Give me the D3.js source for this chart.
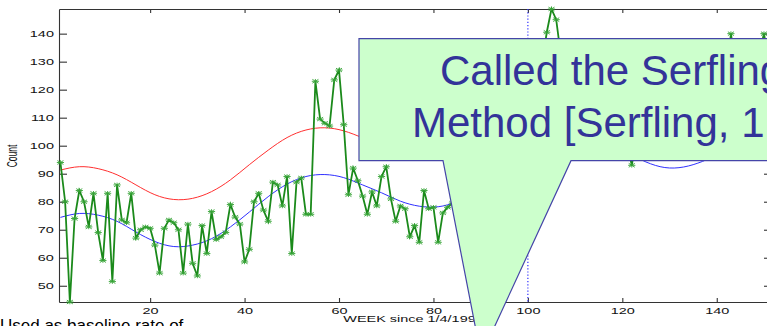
<!DOCTYPE html>
<html>
<head>
<meta charset="utf-8">
<script src="https://cdn.jsdelivr.net/npm/d3@7"></script>
<style>
  html, body { margin: 0; padding: 0; background: #fff; overflow: hidden; }
  svg { display: block; }
</style>
</head>
<body>
<svg id="chart" width="767" height="326"></svg>
<script>
// ── Data ──────────────────────────────────────────────────────────────

// weekly counts, week 1 .. 151
const counts = [
  94, 80, 44.2, 74, 84, 80, 71, 83, 69, 59,
  83, 51.5, 86, 73.5, 72.5, 83, 67, 70, 71, 70.5,
  64.5, 54.5, 70.5, 73.5, 72.5, 70, 54.5, 72, 58, 53.5,
  71.5, 61.5, 76.5, 66.5, 67.5, 69, 79, 74.5, 72, 58.5,
  63, 80, 83, 77, 73, 87, 86, 78.5, 89, 61.5,
  87, 88.5, 75.5, 75.5, 123, 109.5, 108, 107, 123.5, 127,
  107.5, 82.5, 92, 87.5, 82, 75.5, 83.5, 78.5, 89, 92.5,
  81, 73, 78.5, 77.5, 67.5, 71.5, 65.5, 84, 77.5, 78,
  65.5, 76, 78, 79.5, 84, 90, 86, 95, 92, 100,
  97, 106, 103, 112, 108, 118, 114, 124, 120, 127,
  122, 133, 129, 140.5, 148.8, 145, 132, 135, 124, 128,
  119, 124, 115, 120, 110, 116, 107, 112, 104, 109,
  101, 93, 103, 99, 106, 100, 104, 98, 105, 101,
  108, 103, 112, 106, 116, 110, 120, 114, 126, 118,
  130, 124, 140, 128, 134, 122, 131, 126, 133, 140,
  130
];

// fitted seasonal curves, read at these weeks
const fitWeeks = [1, 5, 9, 13, 17, 21, 25, 29, 33, 37, 41, 45, 49, 53, 57, 61, 65, 69, 73, 77,
  81, 85, 89, 93, 97, 101, 105, 109, 113, 117, 121, 125, 129, 133, 137, 141, 145, 149, 151];
const baseline = [74.4, 75.8, 75.2, 73.0, 69.2, 65.8, 64.0, 64.5, 66.8, 71.0, 76.3, 81.8, 86.3, 89.0, 89.7,
  88.6, 86.0, 83.2, 80.2, 78.4, 78.2, 80.2, 84.5, 89.5, 94.5, 99, 102, 103.5, 103, 101, 97.5, 94.2,
  92.2, 92.4, 94.4, 97.5, 101.5, 106, 108];
const threshold = [91.3, 92.5, 91.8, 89.6, 86.0, 82.5, 80.8, 81.2, 83.6, 87.8, 93.2, 98.4, 102.9, 105.6, 106.4,
  105.3, 102.8, 100.0, 97.5, 96.0, 95.8, 97.0, 101.3, 106.3, 111.3, 115.8, 118.8, 120.3, 119.8, 117.8,
  114.3, 111, 109, 109.2, 111.2, 114.3, 118.3, 122.8, 124.8];

const xTicks = [20, 40, 60, 80, 100, 120, 140];
const yTicks = [50, 60, 70, 80, 90, 100, 110, 120, 130, 140];
const markWeek = 100;

const xTitle = 'WEEK since 1/4/1998';
const yTitle = 'Count';
const calloutLines = ['Called the Serfling', 'Method [Serfling, 1'];
const footText = 'Used as baseline rate of';

// ── Layout ────────────────────────────────────────────────────────────

const PLOT = { left: 59, right: 772, top: 9, bottom: 302 };
const STRETCH = 1.7;   // the slide squeezed the figure horizontally
const FONT = '"Liberation Sans", Arial, Helvetica, sans-serif';

const svg = d3.select('#chart');

const x = d3.scaleLinear().domain([0.7, 151.7]).range([PLOT.left, PLOT.right]);
const y = d3.scaleLinear().domain([44.2, 148.8]).range([PLOT.bottom, PLOT.top]);

// ── Axes ──────────────────────────────────────────────────────────────

function styleAxis(g) {
  g.selectAll('path, line').attr('stroke', '#333').attr('stroke-width', 1.1);
  g.selectAll('text')
    .attr('font-family', FONT)
    .attr('font-size', '8.5px')
    .attr('fill', '#111');
}

const bottomAxis = svg.append('g')
  .attr('transform', `translate(0,${PLOT.bottom})`)
  .call(d3.axisBottom(x).tickValues(xTicks).tickSizeInner(-4).tickSizeOuter(0).tickPadding(5.5))
  .call(styleAxis);
bottomAxis.selectAll('text').attr('transform', `scale(${STRETCH},1)`);

svg.append('g')
  .attr('transform', `translate(0,${PLOT.top})`)
  .call(d3.axisTop(x).tickValues(xTicks).tickSizeInner(-4).tickSizeOuter(0).tickFormat(''))
  .call(styleAxis);

const leftAxis = svg.append('g')
  .attr('transform', `translate(${PLOT.left},0)`)
  .call(d3.axisLeft(y).tickValues(yTicks).tickSizeInner(-8).tickSizeOuter(0).tickPadding(3))
  .call(styleAxis);
leftAxis.selectAll('text').attr('transform', `scale(${STRETCH},1)`);

svg.append('g')
  .attr('transform', `translate(${PLOT.right},0)`)
  .call(d3.axisRight(y).tickValues(yTicks).tickSizeInner(-8).tickSizeOuter(0).tickFormat(''))
  .call(styleAxis);

// axis titles
svg.append('text')
  .attr('transform', `translate(${(PLOT.left + PLOT.right) / 2 - 2},322) scale(${STRETCH},1)`)
  .attr('text-anchor', 'middle')
  .attr('font-family', FONT)
  .attr('font-size', '8.5px')
  .attr('fill', '#111')
  .text(xTitle);

svg.append('text')
  .attr('transform', `translate(17,156) rotate(-90) scale(1,${STRETCH})`)
  .attr('text-anchor', 'middle')
  .attr('font-family', FONT)
  .attr('font-size', '8.5px')
  .attr('fill', '#111')
  .text(yTitle);

// ── Seasonal curves ───────────────────────────────────────────────────

const fitLine = d3.line()
  .x((d, i) => x(fitWeeks[i]))
  .y(d => y(d))
  .curve(d3.curveNatural);

svg.append('path')
  .attr('d', fitLine(threshold))
  .attr('fill', 'none')
  .attr('stroke', '#ff3030')
  .attr('stroke-width', 1);

svg.append('path')
  .attr('d', fitLine(baseline))
  .attr('fill', 'none')
  .attr('stroke', '#3030ff')
  .attr('stroke-width', 1);

// ── Weekly counts ─────────────────────────────────────────────────────

const countLine = d3.line()
  .x((d, i) => x(i + 1))
  .y(d => y(d));

svg.append('path')
  .attr('d', countLine(counts))
  .attr('fill', 'none')
  .attr('stroke', '#1b8a1b')
  .attr('stroke-width', 1.8);

const STAR = 'M-3.6,0H3.6M0,-2.3V2.3M-3,-1.9L3,1.9M-3,1.9L3,-1.9';
svg.append('g')
  .selectAll('path')
  .data(counts)
  .join('path')
  .attr('transform', (d, i) => `translate(${x(i + 1)},${y(d)})`)
  .attr('d', STAR)
  .attr('fill', 'none')
  .attr('stroke', '#34a334')
  .attr('stroke-width', 0.9);

// marker week
svg.append('line')
  .attr('x1', x(markWeek)).attr('x2', x(markWeek))
  .attr('y1', PLOT.top).attr('y2', PLOT.bottom)
  .attr('stroke', '#3030ff')
  .attr('stroke-width', 1.2)
  .attr('stroke-dasharray', '1.2,2');

// ── Callout ───────────────────────────────────────────────────────────

const box = { left: 359, top: 38.7, bottom: 160.7, right: 800 };
const pointer = { baseLeft: 443, baseRight: 571, tipX: 481, tipY: 356 };

svg.append('path')
  .attr('d', `M${box.left},${box.top}H${box.right}V${box.bottom}H${pointer.baseRight}` +
             `L${pointer.tipX},${pointer.tipY}L${pointer.baseLeft},${box.bottom}H${box.left}Z`)
  .attr('fill', '#ccffcc')
  .attr('stroke', '#4545a8')
  .attr('stroke-width', 1.2);

svg.append('text')
  .attr('x', 440).attr('y', 85)
  .attr('font-family', FONT)
  .attr('font-size', '42px')
  .attr('fill', '#333399')
  .text(calloutLines[0]);

svg.append('text')
  .attr('x', 412).attr('y', 137)
  .attr('font-family', FONT)
  .attr('font-size', '42px')
  .attr('fill', '#333399')
  .text(calloutLines[1]);

// slide text peeking in at the bottom edge
svg.append('text')
  .attr('x', 0).attr('y', 331)
  .attr('font-family', FONT)
  .attr('font-size', '17px')
  .attr('fill', '#000')
  .text(footText);
</script>
</body>
</html>
